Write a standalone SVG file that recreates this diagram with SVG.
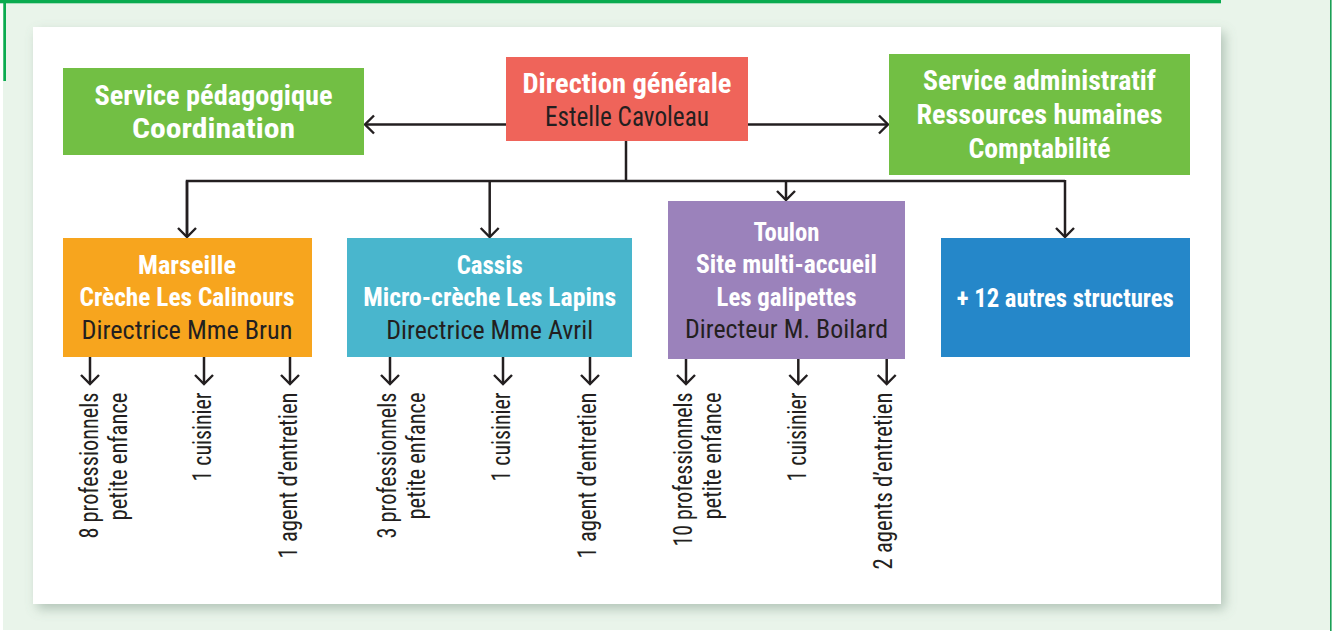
<svg xmlns="http://www.w3.org/2000/svg" width="1332" height="631" viewBox="0 0 1332 631">
<defs>
<filter id="sh" x="-5%" y="-5%" width="112%" height="115%">
<feDropShadow dx="4" dy="5" stdDeviation="6" flood-color="#6f8a78" flood-opacity="0.45"/>
</filter>
<marker id="ah" viewBox="-11 -11 13 22" refX="0" refY="0" markerWidth="13" markerHeight="22" markerUnits="userSpaceOnUse" orient="auto">
<path d="M-9,-9 L0,0 L-9,9" fill="none" stroke="#231f20" stroke-width="2.4"/>
</marker>
</defs>
<style>
.b{font-family:"Liberation Sans Narrow","Roboto Condensed","Liberation Sans",sans-serif;font-weight:bold;fill:#fff;text-anchor:middle}
.r{font-family:"Liberation Sans Narrow","Roboto Condensed","Liberation Sans",sans-serif;fill:#231f20;text-anchor:middle}
.t1{font-size:28px}
.t2{font-size:25.5px}
.v{font-family:"Liberation Sans Narrow","Roboto Condensed","Liberation Sans",sans-serif;font-size:25px;fill:#231f20;text-anchor:end}
.c{fill:none;stroke:#231f20;stroke-width:2.5}
.ca{fill:none;stroke:#231f20;stroke-width:2.5;marker-end:url(#ah)}
</style>
<rect x="0" y="0" width="1332" height="631" fill="#ffffff"/>
<rect x="3" y="0" width="1328" height="630" fill="#e9f4ea"/>
<rect x="0" y="0" width="1221" height="3.3" fill="#0aab4f"/>
<rect x="3.3" y="0" width="2.7" height="81" fill="#0aab4f"/>
<rect x="1330" y="0" width="1.6" height="631" fill="#1a9f55"/>
<rect x="33" y="27" width="1188" height="577" fill="#ffffff" filter="url(#sh)"/>

<g id="connectors">
<line class="ca" x1="506" y1="124.5" x2="365" y2="124.5"/>
<line class="ca" x1="748" y1="124.5" x2="888" y2="124.5"/>
<line class="c" x1="626" y1="141" x2="626" y2="181"/>
<polyline class="c" points="187,237 187,181 1065,181"/>
<line class="ca" x1="187" y1="181" x2="187" y2="237"/>
<line class="ca" x1="489.7" y1="181" x2="489.7" y2="237"/>
<line class="ca" x1="786" y1="181" x2="786" y2="200"/>
<line class="ca" x1="1065" y1="180" x2="1065" y2="237"/>
<line class="ca" x1="90" y1="357" x2="90" y2="384"/>
<line class="ca" x1="204" y1="357" x2="204" y2="384"/>
<line class="ca" x1="290" y1="357" x2="290" y2="384"/>
<line class="ca" x1="390" y1="357" x2="390" y2="384"/>
<line class="ca" x1="503" y1="357" x2="503" y2="384"/>
<line class="ca" x1="590" y1="357" x2="590" y2="384"/>
<line class="ca" x1="686" y1="359" x2="686" y2="384"/>
<line class="ca" x1="798.3" y1="359" x2="798.3" y2="384"/>
<line class="ca" x1="886.7" y1="359" x2="886.7" y2="384"/>
</g>

<g id="service-pedagogique">
<rect x="63" y="68" width="301" height="87" fill="#72bf44"/>
<text class="b t1" x="213.5" y="105" textLength="238" lengthAdjust="spacingAndGlyphs">Service pédagogique</text>
<text class="b t1" x="213.5" y="138" textLength="163" lengthAdjust="spacingAndGlyphs">Coordination</text>
</g>

<g id="direction-generale">
<rect x="506" y="57" width="242" height="84" fill="#ef645a"/>
<text class="b t1" x="627" y="93.3" textLength="209" lengthAdjust="spacingAndGlyphs">Direction générale</text>
<text class="r t1" x="627" y="126" textLength="164" lengthAdjust="spacingAndGlyphs">Estelle Cavoleau</text>
</g>

<g id="service-administratif">
<rect x="889" y="54" width="301" height="121" fill="#72bf44"/>
<text class="b t1" x="1039.5" y="90" textLength="233" lengthAdjust="spacingAndGlyphs">Service administratif</text>
<text class="b t1" x="1039.5" y="124" textLength="246" lengthAdjust="spacingAndGlyphs">Ressources humaines</text>
<text class="b t1" x="1039.5" y="158" textLength="142" lengthAdjust="spacingAndGlyphs">Comptabilité</text>
</g>

<g id="marseille">
<rect x="63" y="238" width="249" height="119" fill="#f7a51e"/>
<text class="b t2" x="187" y="274.3" textLength="98" lengthAdjust="spacingAndGlyphs">Marseille</text>
<text class="b t2" x="187" y="306" textLength="215" lengthAdjust="spacingAndGlyphs">Crèche Les Calinours</text>
<text class="r t2" x="187" y="338.7" textLength="211" lengthAdjust="spacingAndGlyphs">Directrice Mme Brun</text>
</g>

<g id="cassis">
<rect x="347" y="238" width="285" height="119" fill="#49b6cd"/>
<text class="b t2" x="489.7" y="274.3" textLength="66" lengthAdjust="spacingAndGlyphs">Cassis</text>
<text class="b t2" x="489.7" y="306" textLength="253" lengthAdjust="spacingAndGlyphs">Micro-crèche Les Lapins</text>
<text class="r t2" x="489.7" y="338.7" textLength="207" lengthAdjust="spacingAndGlyphs">Directrice Mme Avril</text>
</g>

<g id="toulon">
<rect x="668" y="201" width="237" height="158" fill="#9b82bb"/>
<text class="b t2" x="786.5" y="240.7" textLength="66" lengthAdjust="spacingAndGlyphs">Toulon</text>
<text class="b t2" x="786.5" y="273.3" textLength="181" lengthAdjust="spacingAndGlyphs">Site multi-accueil</text>
<text class="b t2" x="786.5" y="305.7" textLength="140" lengthAdjust="spacingAndGlyphs">Les galipettes</text>
<text class="r t2" x="786.5" y="337.7" textLength="203" lengthAdjust="spacingAndGlyphs">Directeur M. Boilard</text>
</g>

<g id="autres-structures">
<rect x="941" y="238" width="249" height="119" fill="#2587c9"/>
<text class="b t2" x="1065.3" y="306.7" textLength="217" lengthAdjust="spacingAndGlyphs">+ 12 autres structures</text>
</g>

<g id="marseille-staff">
<text class="v" transform="translate(97.5,392.5) rotate(-90)" textLength="146" lengthAdjust="spacingAndGlyphs">8 professionnels</text>
<text class="v" transform="translate(126.5,392.5) rotate(-90)" textLength="128" lengthAdjust="spacingAndGlyphs">petite enfance</text>
<text class="v" transform="translate(211,392.5) rotate(-90)" textLength="89" lengthAdjust="spacingAndGlyphs">1 cuisinier</text>
<text class="v" transform="translate(297.3,392.5) rotate(-90)" textLength="166" lengthAdjust="spacingAndGlyphs">1 agent d’entretien</text>
</g>

<g id="cassis-staff">
<text class="v" transform="translate(395.5,392.5) rotate(-90)" textLength="146" lengthAdjust="spacingAndGlyphs">3 professionnels</text>
<text class="v" transform="translate(425,392.5) rotate(-90)" textLength="127" lengthAdjust="spacingAndGlyphs">petite enfance</text>
<text class="v" transform="translate(510.3,392.5) rotate(-90)" textLength="89" lengthAdjust="spacingAndGlyphs">1 cuisinier</text>
<text class="v" transform="translate(596,392.5) rotate(-90)" textLength="166" lengthAdjust="spacingAndGlyphs">1 agent d’entretien</text>
</g>

<g id="toulon-staff">
<text class="v" transform="translate(691.5,392.5) rotate(-90)" textLength="154" lengthAdjust="spacingAndGlyphs">10 professionnels</text>
<text class="v" transform="translate(721,392.5) rotate(-90)" textLength="127" lengthAdjust="spacingAndGlyphs">petite enfance</text>
<text class="v" transform="translate(805.5,392.5) rotate(-90)" textLength="89" lengthAdjust="spacingAndGlyphs">1 cuisinier</text>
<text class="v" transform="translate(891.5,392.5) rotate(-90)" textLength="177" lengthAdjust="spacingAndGlyphs">2 agents d’entretien</text>
</g>
</svg>
